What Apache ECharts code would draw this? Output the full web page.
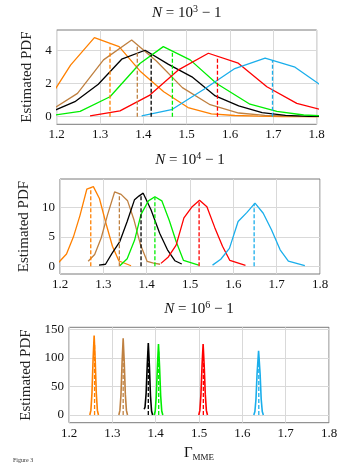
<!DOCTYPE html>
<html><head><meta charset="utf-8">
<script src="https://cdn.jsdelivr.net/npm/echarts@6/dist/echarts.min.js"></script>
<style>html,body{margin:0;padding:0;background:#fff}#c{width:352px;height:473px}</style>
</head><body><div id="c"></div>
<script>
// ---------- data ----------
const colors = ['#FF8000', '#BF8040', '#000000', '#00EE00', '#FF0000', '#1AAEEB'];
const names = ['orange', 'brown', 'black', 'green', 'red', 'cyan'];
const xTicks = [1.2, 1.3, 1.4, 1.5, 1.6, 1.7, 1.8];

// Panel 1: N = 10^3 - 1
const p1_orange = [[1.178,0.9],[1.232,3.1],[1.287,4.76],[1.344,4.22],[1.394,2.7],[1.447,1.5],[1.503,0.55],[1.557,0.17],[1.611,0.07],[1.665,0.03],[1.72,0.01],[1.775,0],[1.83,0]];
const p1_brown = [[1.19,0.45],[1.248,1.4],[1.308,3.42],[1.373,4.62],[1.43,3.35],[1.49,1.75],[1.554,0.72],[1.62,0.22],[1.68,0.08],[1.74,0.03],[1.8,0.01]];
const p1_black = [[1.188,0.3],[1.242,0.9],[1.296,1.95],[1.35,3.46],[1.404,4.0],[1.458,3.15],[1.512,2.4],[1.566,1.25],[1.62,0.65],[1.674,0.24],[1.728,0.08],[1.782,0.02],[1.836,0]];
const p1_green = [[1.185,0.06],[1.254,0.32],[1.323,1.2],[1.392,3.2],[1.446,4.22],[1.508,3.42],[1.569,2.0],[1.646,0.75],[1.708,0.32],[1.77,0.1],[1.83,0.03]];
const p1_red = [[1.277,0.05],[1.346,0.35],[1.415,1.3],[1.48,2.8],[1.55,3.82],[1.619,3.22],[1.685,1.8],[1.754,0.8],[1.82,0.35]];
const p1_cyan = [[1.396,0.05],[1.465,0.42],[1.54,1.65],[1.611,2.9],[1.681,3.52],[1.75,2.98],[1.82,1.7]];
const p1_meanX = [1.323, 1.386, 1.418, 1.467, 1.571, 1.698];
const p1_meanH = [4.35, 4.3, 3.75, 3.85, 3.62, 3.4];
const p1_yTicks = [0, 2, 4];

// Panel 2: N = 10^4 - 1
const p2_orange = [[1.195,0.5],[1.2,0.9],[1.215,2.1],[1.231,5.0],[1.246,8.6],[1.262,13.1],[1.277,13.5],[1.291,11.5],[1.306,7.3],[1.321,3.4],[1.336,0.9],[1.364,0.1]];
const p2_brown = [[1.265,0.85],[1.28,2.0],[1.295,4.8],[1.31,8.8],[1.326,12.6],[1.341,12.2],[1.356,11.1],[1.371,7.8],[1.386,3.6],[1.401,0.85],[1.416,0.55],[1.431,0.35]];
const p2_black = [[1.29,0.2],[1.305,0.35],[1.32,2.2],[1.338,4.2],[1.355,7.6],[1.372,11.3],[1.382,11.9],[1.392,12.4],[1.41,9.6],[1.43,5.6],[1.448,2.8],[1.465,0.95],[1.481,0.4]];
const p2_green = [[1.338,0.1],[1.355,1.3],[1.372,4.4],[1.387,8.8],[1.404,11.1],[1.419,11.8],[1.435,11.1],[1.452,7.8],[1.468,4.2],[1.485,1.0],[1.52,0.2]];
const p2_red = [[1.433,0.5],[1.45,1.6],[1.468,3.6],[1.486,8.2],[1.505,10.1],[1.522,11.2],[1.539,10.1],[1.557,6.6],[1.575,3.4],[1.592,1.0],[1.628,0.15]];
const p2_cyan = [[1.552,0.2],[1.571,1.2],[1.591,3.05],[1.611,7.6],[1.631,9.1],[1.65,10.7],[1.669,9.0],[1.688,6.2],[1.708,2.8],[1.727,0.9],[1.765,0.1]];
const p2_meanX = [1.271, 1.337, 1.387, 1.419, 1.521, 1.648];
const p2_meanH = [13.4, 12.3, 11.9, 11.7, 11.2, 10.6];
const p2_yTicks = [0, 5, 10];

// Panel 3: N = 10^6 - 1
const p3_orange = [[1.248,0],[1.2505,8],[1.253,38],[1.2555,95],[1.258,139],[1.2605,95],[1.263,38],[1.2655,8],[1.268,0]];
const p3_brown = [[1.315,0],[1.3175,8],[1.32,36],[1.3225,92],[1.325,134],[1.3275,92],[1.33,36],[1.3325,8],[1.335,0]];
const p3_black = [[1.3735,10],[1.3755,14],[1.378,38],[1.3805,86],[1.383,126],[1.3855,86],[1.388,34],[1.3905,7],[1.393,0]];
const p3_green = [[1.3965,0],[1.399,7],[1.4015,34],[1.404,84],[1.4065,124],[1.409,84],[1.4115,34],[1.414,7],[1.4165,0]];
const p3_red = [[1.4995,0],[1.502,8],[1.5045,36],[1.507,86],[1.5095,124],[1.512,86],[1.5145,36],[1.517,8],[1.5195,0]];
const p3_cyan = [[1.6265,0],[1.629,6],[1.6315,28],[1.634,72],[1.6375,112],[1.641,72],[1.6435,28],[1.646,6],[1.6485,0]];
const p3_meanX = [1.259, 1.325, 1.383, 1.407, 1.51, 1.638];
const p3_meanH = [125, 120, 113, 111, 111, 100];
const p3_yTicks = [0, 50, 100, 150];

// ---------- layout ----------
const FONT = 'Liberation Serif';
const panels = [
  {curves:[p1_orange,p1_brown,p1_black,p1_green,p1_red,p1_cyan], meanX:p1_meanX, meanH:p1_meanH, yTicks:p1_yTicks,
   grid:{left:56.7, top:30, width:260, height:94.3}, ymin:-0.46, ymax:5.22, title:'3', titleY:13.5, lw:1.3},
  {curves:[p2_orange,p2_brown,p2_black,p2_green,p2_red,p2_cyan], meanX:p2_meanX, meanH:p2_meanH, yTicks:p2_yTicks,
   grid:{left:60, top:179, width:260, height:95}, ymin:-1.3, ymax:14.8, title:'4', titleY:160, lw:1.3},
  {curves:[p3_orange,p3_brown,p3_black,p3_green,p3_red,p3_cyan], meanX:p3_meanX, meanH:p3_meanH, yTicks:p3_yTicks,
   grid:{left:69, top:327.3, width:260, height:95.4}, ymin:-13.5, ymax:153.3, title:'6', titleY:309, lw:1.6}
];

const grids = [], xAxes = [], yAxes = [], series = [], graphics = [];
panels.forEach((p, i) => {
  grids.push(Object.assign({show:true, borderColor:'#7a7a7a', borderWidth:1, backgroundColor:'transparent'}, p.grid));
  xAxes.push({
    type:'value', gridIndex:i, min:1.2, max:1.8, interval:0.1,
    axisLine:{show:false}, axisTick:{show:false},
    axisLabel:{color:'#111', fontFamily:FONT, fontSize:13, margin:4, formatter:v=>v.toFixed(1)},
    splitLine:{show:true, lineStyle:{color:'#d9d9d9', width:1}},
    name: i===2 ? '{g|Γ}{s|MME}' : '', nameLocation:'middle', nameGap:22,
    nameTextStyle:{fontFamily:FONT, color:'#111', rich:{g:{fontSize:15, fontFamily:FONT, color:'#111'}, s:{fontSize:9, fontFamily:FONT, color:'#111', padding:[8,0,0,0]}}}
  });
  yAxes.push({
    type:'value', gridIndex:i, min:p.ymin, max:p.ymax,
    axisLine:{show:false},
    axisTick:{show:false, customValues:p.yTicks},
    axisLabel:{color:'#111', fontFamily:FONT, fontSize:13, margin:5, customValues:p.yTicks},
    splitLine:{show:true, lineStyle:{color:'#d9d9d9', width:1}},
    name:'Estimated PDF', nameLocation:'middle', nameGap:p.grid.left-44,
    nameTextStyle:{fontFamily:FONT, fontSize:15, fontWeight:'normal', color:'#222'}
  });
  p.curves.forEach((d, k) => {
    series.push({type:'line', xAxisIndex:i, yAxisIndex:i, data:d, symbol:'none', clip:true,
      lineStyle:{color:colors[k], width:p.lw}, itemStyle:{color:colors[k]}, z:2, name:names[k]});
    series.push({type:'line', xAxisIndex:i, yAxisIndex:i, data:[[p.meanX[k],0],[p.meanX[k],p.meanH[k]]], symbol:'none', clip:true,
      lineStyle:{color:colors[k], width:1.3, type:[4,2]}, itemStyle:{color:colors[k]}, z:3});
  });
  graphics.push({type:'text', x:p.grid.left+p.grid.width/2, y:p.titleY,
    style:{text:'{i|N} = 10{s|'+p.title+'} − 1', align:'center', verticalAlign:'middle', fill:'#111',
      font:'15px '+FONT,
      rich:{i:{fontStyle:'italic', fontSize:15, fontFamily:FONT}, s:{fontSize:10, fontFamily:FONT, padding:[0,0,8,0]}}}});
});
graphics.push({type:'text', x:13, y:460, style:{text:'Figure 3', font:'6px '+FONT, fill:'#333', verticalAlign:'middle'}});

const chart = echarts.init(document.getElementById('c'), null, {renderer:'canvas'});
chart.setOption({animation:false, grid:grids, xAxis:xAxes, yAxis:yAxes, series:series, graphic:graphics});
</script></body></html>
